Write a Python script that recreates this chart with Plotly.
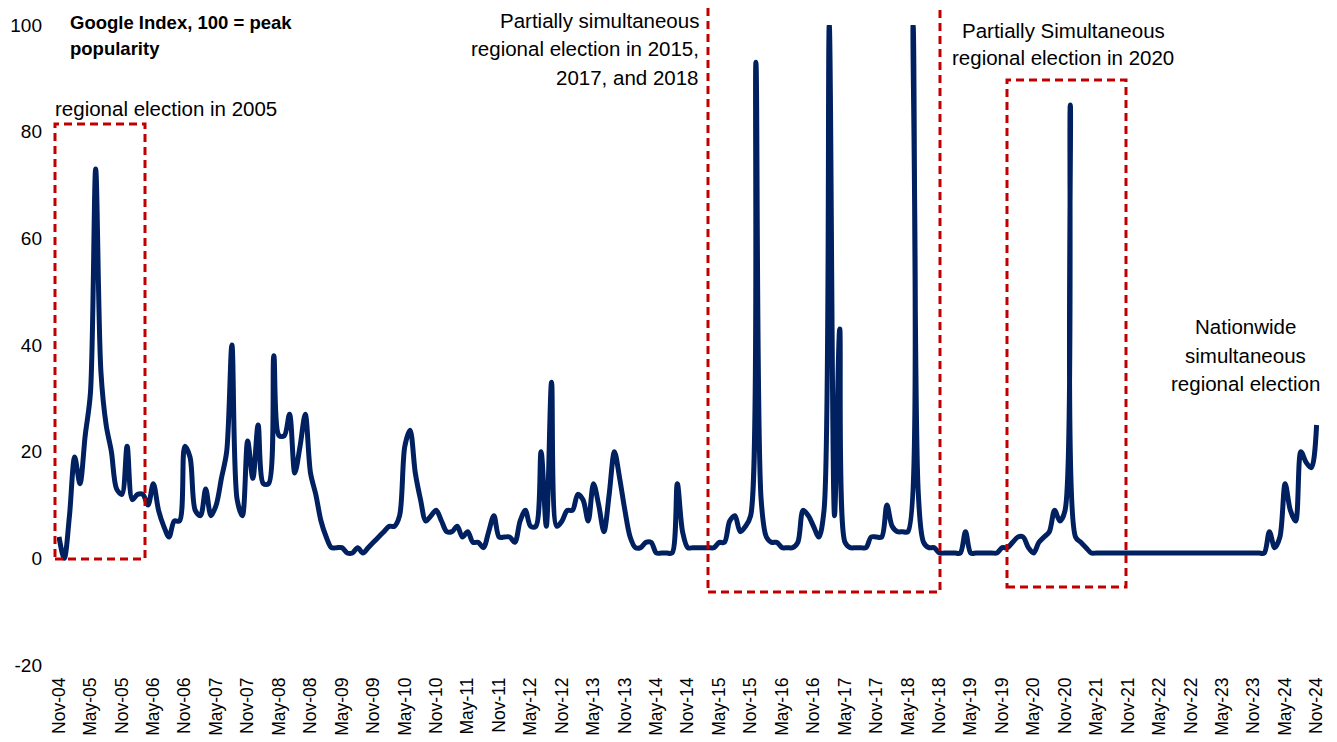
import plotly.graph_objects as go

# ---------------- data (monthly Google index, Nov-04 .. Nov-24) ----------------
google_index = [
    4, 0, 8, 19, 14, 23, 31, 73, 35, 25,
    20, 13, 12, 21, 11, 12, 12, 10, 14, 9,
    6, 4, 7, 7, 21, 19, 9, 8, 13, 8,
    10, 15, 20, 40, 11, 8, 22, 15, 25, 14,
    14, 38, 23, 23, 27, 16, 21, 27, 16, 12,
    7, 4, 2, 2, 2, 1, 1, 2, 1, 2,
    3, 4, 5, 6, 6, 8, 21, 24, 16, 11,
    7, 8, 9, 7, 5, 5, 6, 4, 5, 3,
    3, 2, 5, 8, 4, 4, 4, 3, 7, 9,
    6, 6, 20, 6, 33, 6, 7, 9, 9, 12,
    11, 7, 14, 10, 5, 12, 20, 15, 9, 4,
    2, 2, 3, 3, 1, 1, 1, 1, 14, 5,
    2, 2, 2, 2, 2, 2, 3, 3, 7, 8,
    5, 6, 8, 93, 11, 4, 3, 3, 2, 2,
    2, 3, 9, 8, 6, 4, 9, 100, 8, 43,
    3, 2, 2, 2, 2, 4, 4, 4, 10, 6,
    5, 5, 5, 100, 12, 3, 2, 2, 1, 1,
    1, 1, 1, 5, 1, 1, 1, 1, 1, 1,
    2, 2, 3, 4, 4, 2, 1, 3, 4, 5,
    9, 7, 9, 85, 4, 3, 2, 1, 1, 1,
    1, 1, 1, 1, 1, 1, 1, 1, 1, 1,
    1, 1, 1, 1, 1, 1, 1, 1, 1, 1,
    1, 1, 1, 1, 1, 1, 1, 1, 1, 1,
    1, 5, 2, 4, 14, 9, 7, 20, 18, 17,
    25,
]
month_index = list(range(len(google_index)))

tick_labels = [
    "Nov-04", "May-05", "Nov-05", "May-06", "Nov-06", "May-07", "Nov-07",
    "May-08", "Nov-08", "May-09", "Nov-09", "May-10", "Nov-10", "May-11",
    "Nov-11", "May-12", "Nov-12", "May-13", "Nov-13", "May-14", "Nov-14",
    "May-15", "Nov-15", "May-16", "Nov-16", "May-17", "Nov-17", "May-18",
    "Nov-18", "May-19", "Nov-19", "May-20", "Nov-20", "May-21", "Nov-21",
    "May-22", "Nov-22", "May-23", "Nov-23", "May-24", "Nov-24",
]
tick_positions = [6 * k for k in range(len(tick_labels))]

y_ticks = [-20, 0, 20, 40, 60, 80, 100]

# ---------------- layout helpers ----------------
# the page body adds an 8px margin, so the figure is drawn 8px right/down
OFF = 8
W, H = 1337 - OFF, 742 - OFF
L, R, T, B = 57 - OFF, 17, 25 - OFF, 77
PW, PH = W - L - R, H - T - B


def px(x):
    """screen pixel x -> paper fraction"""
    return (x - OFF - L) / PW


def py(y):
    """screen pixel y -> paper fraction"""
    return (OFF + H - B - y) / PH


FONT = "Liberation Sans, Arial, sans-serif"
NAVY = "#002060"
RED = "#C00000"
GREY = "#D9D9D9"

fig = go.Figure()
fig.add_trace(go.Scatter(
    x=month_index, y=google_index, mode="lines",
    line=dict(color=NAVY, width=5, shape="spline", smoothing=0.9),
    hoverinfo="skip", showlegend=False,
))

x_range = [-0.38, 240.65]

fig.update_layout(
    width=W, height=H,
    margin=dict(l=L, r=R, t=T, b=B),
    paper_bgcolor="white", plot_bgcolor="white",
    font=dict(family=FONT, color="black"),
    showlegend=False,
    xaxis=dict(
        range=x_range, tickmode="array", tickvals=tick_positions,
        ticktext=tick_labels, tickangle=-90, ticks="", showline=False,
        showgrid=False, zeroline=False, tickfont=dict(size=17.5, family=FONT),
        ticklabelstandoff=8, automargin=False,
    ),
    xaxis2=dict(
        range=x_range, overlaying="x", anchor="free", position=py(558),
        side="bottom", tickmode="array", tickvals=tick_positions,
        showticklabels=False, ticks="outside", ticklen=6, tickwidth=2,
        tickcolor=GREY, showline=True, linecolor=GREY, linewidth=2,
        showgrid=False, zeroline=False, automargin=False,
    ),
    yaxis=dict(
        range=[-20, 100], tickmode="array", tickvals=y_ticks,
        ticktext=[str(v) for v in y_ticks], showgrid=False, zeroline=False,
        showline=False, ticks="", tickfont=dict(size=19, family=FONT),
        ticklabelstandoff=14, automargin=False,
    ),
)

# ---------------- dashed boxes ----------------
boxes = [
    (55, 145, 124, 559),
    (708, 940, -40, 592),
    (1007, 1126, 80, 587),
]
for x0, x1, y0, y1 in boxes:
    fig.add_shape(
        type="rect", xref="paper", yref="paper",
        x0=px(x0), x1=px(x1), y0=py(y1), y1=py(y0),
        line=dict(color=RED, width=3, dash="8px,5px"),
        fillcolor="rgba(0,0,0,0)", layer="above",
    )

# ---------------- annotations ----------------
texts = [
    ("<b>Google Index, 100 = peak</b>", 68, 22, "left", 18.5),
    ("<b>popularity</b>", 68, 49, "left", 18.5),
    ("regional election in 2005", 53, 109, "left", 20.5),
    ("Partially simultaneous", 701, 21, "right", 20.5),
    ("regional election in 2015,", 701, 49, "right", 20.5),
    ("2017, and 2018", 701, 77, "right", 20.5),
    ("Partially Simultaneous", 1063, 30, "center", 20.5),
    ("regional election in 2020", 1063, 58, "center", 20.5),
    ("Nationwide", 1245, 326, "center", 20.5),
    ("simultaneous", 1245, 355, "center", 20.5),
    ("regional election", 1245, 383, "center", 20.5),
]
for txt, x, y, anchor, size in texts:
    fig.add_annotation(
        text=txt, xref="paper", yref="paper", x=px(x), y=py(y),
        xanchor=anchor, yanchor="middle", showarrow=False,
        font=dict(family=FONT, size=size, color="black"),
    )

fig.write_html("out.html")
